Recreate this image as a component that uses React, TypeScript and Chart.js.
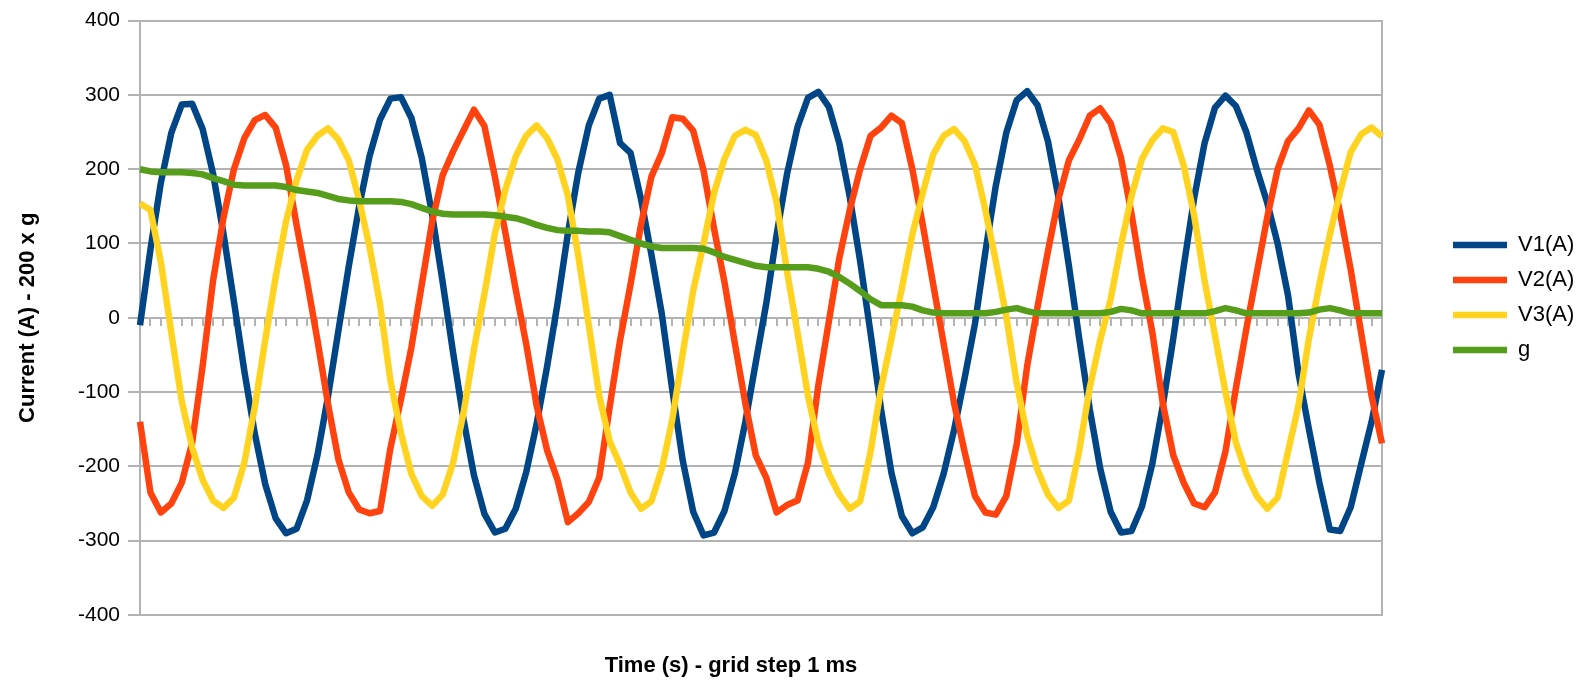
import React, { useEffect, useRef } from "react";
import { Chart, registerables } from "chart.js";

Chart.register(...registerables);

// time axis: one sample per millisecond (categories, labels hidden)
const timeMs = [
  0, 1, 2, 3, 4, 5, 6, 7, 8, 9, 10, 11, 12, 13, 14, 15, 16, 17, 18, 19,
  20, 21, 22, 23, 24, 25, 26, 27, 28, 29, 30, 31, 32, 33, 34, 35, 36, 37, 38, 39,
  40, 41, 42, 43, 44, 45, 46, 47, 48, 49, 50, 51, 52, 53, 54, 55, 56, 57, 58, 59,
  60, 61, 62, 63, 64, 65, 66, 67, 68, 69, 70, 71, 72, 73, 74, 75, 76, 77, 78, 79,
  80, 81, 82, 83, 84, 85, 86, 87, 88, 89, 90, 91, 92, 93, 94, 95, 96, 97, 98, 99,
  100, 101, 102, 103, 104, 105, 106, 107, 108, 109, 110, 111, 112, 113, 114, 115, 116, 117, 118, 119,
];

const v1 = [
  -10, 92, 182, 249, 287, 288, 254, 194, 113, 22,
  -72, -156, -224, -270, -290, -284, -246, -185, -107, -18,
  69, 150, 218, 267, 295, 297, 269, 215, 138, 48,
  -47, -137, -212, -264, -289, -284, -257, -208, -143, -66,
  19, 114, 196, 259, 295, 300, 235, 222, 160, 85,
  5, -97, -192, -261, -293, -289, -260, -209, -140, -60,
  19, 112, 194, 257, 296, 304, 284, 235, 163, 76,
  -21, -123, -209, -267, -290, -282, -255, -210, -151, -82,
  -8, 89, 178, 249, 293, 305, 286, 237, 162, 70,
  -29, -123, -203, -261, -289, -287, -254, -196, -118, -28,
  69, 161, 235, 283, 299, 285, 250, 200, 155, 100,
  30, -75, -150, -222, -285, -287, -255, -197, -140, -70,
];

const v2 = [
  -140, -235, -262, -250, -222, -168, -65, 50, 135, 200,
  242, 266, 273, 256, 205, 125, 50, -30, -115, -190,
  -235, -258, -263, -260, -175, -110, -40, 45, 130, 192,
  224, 252, 280, 258, 190, 115, 38, -35, -118, -178,
  -218, -275, -263, -248, -215, -120, -30, 45, 125, 190,
  222, 270, 268, 252, 198, 120, 48, -35, -115, -185,
  -215, -262, -252, -246, -195, -90, -5, 80, 145, 200,
  245, 256, 272, 262, 200, 125, 45, -35, -115, -180,
  -240, -262, -265, -240, -170, -65, 15, 90, 160, 212,
  240, 272, 282, 262, 215, 140, 55, -20, -115, -185,
  -222, -250, -255, -235, -180, -95, -15, 60, 135, 200,
  238, 255, 279, 260, 205, 140, 65, -20, -105, -169,
];

const v3 = [
  154, 145, 75, -20, -112, -175, -218, -246, -256, -242,
  -195, -120, -30, 55, 130, 185, 226, 245, 255, 240,
  212, 158, 95, 18, -85, -155, -210, -240, -253, -238,
  -195, -128, -42, 32, 113, 172, 217, 245, 259, 242,
  213, 164, 83, -10, -105, -166, -198, -235, -257, -247,
  -203, -137, -48, 36, 100, 168, 214, 245, 253, 246,
  212, 155, 62, -20, -105, -169, -210, -238, -257, -247,
  -180, -95, -28, 40, 112, 168, 220, 245, 254, 238,
  206, 145, 76, 2, -88, -158, -205, -238, -256, -246,
  -178, -94, -30, 25, 98, 164, 214, 239, 255, 250,
  205, 138, 50, -24, -100, -168, -210, -240, -257, -242,
  -180, -118, -28, 45, 112, 170, 223, 247, 256, 244,
];

// 200 x g
const gScaled = [
  200, 197, 196, 196, 196, 195, 193, 188, 184, 179,
  178, 178, 178, 178, 176, 172, 170, 168, 164, 160,
  158, 157, 157, 157, 157, 156, 153, 148, 143, 140,
  139, 139, 139, 139, 138, 136, 134, 130, 125, 121,
  118, 117, 117, 116, 116, 115, 110, 105, 100, 96,
  94, 94, 94, 94, 93, 88, 82, 78, 74, 70,
  68, 68, 68, 68, 68, 66, 62, 55, 46, 36,
  25, 17, 17, 17, 15, 10, 7, 6, 6, 6,
  6, 6, 8, 11, 13, 9, 6, 6, 6, 6,
  6, 6, 6, 8, 12, 10, 6, 6, 6, 6,
  6, 6, 6, 9, 13, 10, 6, 6, 6, 6,
  6, 6, 7, 11, 13, 10, 6, 6, 6, 6,
];

const seriesNames = ["V1(A)", "V2(A)", "V3(A)", "g"];
const seriesColors = ["#004586", "#ff420e", "#ffd320", "#579d1c"];
const yMin = -400;
const yMax = 400;
const yStep = 100;
const yTitle = "Current (A) - 200 x g";
const xTitle = "Time (s) - grid step 1 ms";

const FONT = '"Liberation Sans", Arial, Helvetica, sans-serif';
const GRID = "#b3b3b3";

const xTitlePlugin = {
  id: "xTitleText",
  afterDraw(chart: any) {
    const { ctx, chartArea } = chart;
    ctx.save();
    ctx.font = `bold 22px ${FONT}`;
    ctx.fillStyle = "#000000";
    ctx.textAlign = "center";
    ctx.textBaseline = "middle";
    ctx.fillText(xTitle, (chartArea.left + chartArea.right) / 2 - 30, chartArea.bottom + 51);
    ctx.restore();
  },
};

export default function App() {
  const canvasRef = useRef<HTMLCanvasElement | null>(null);

  useEffect(() => {
    if (!canvasRef.current) return;
    Chart.defaults.font.family = FONT;
    const seriesData = [v1, v2, v3, gScaled];
    const chart = new Chart(canvasRef.current, {
      type: "line",
      data: {
        labels: timeMs,
        datasets: seriesData.map((d, i) => ({
          label: seriesNames[i],
          data: d,
          borderColor: seriesColors[i],
          backgroundColor: seriesColors[i],
          borderWidth: 6.5,
          pointRadius: 0,
          pointHoverRadius: 0,
          tension: 0,
          fill: false,
          borderJoinStyle: "round" as const,
          order: 4 - i,
        })),
      },
      plugins: [xTitlePlugin],
      options: {
        animation: false,
        responsive: true,
        maintainAspectRatio: false,
        devicePixelRatio: 1,
        events: [],
        layout: { padding: { top: 20, bottom: 66, left: 0, right: 0 } },
        plugins: {
          tooltip: { enabled: false },
          title: { display: false },
          legend: {
            display: true,
            position: "right",
            align: "start",
            maxWidth: 140,
            title: {
              display: true,
              text: "",
              font: { size: 1, lineHeight: 1 },
              padding: { top: 200, bottom: 0 },
            },
            labels: {
              usePointStyle: true,
              pointStyle: "line",
              pointStyleWidth: 54,
              padding: 13,
              color: "#000000",
              font: { family: FONT, size: 22 },
              sort: (a: any, b: any) => a.datasetIndex - b.datasetIndex,
            },
          },
        },
        scales: {
          x: {
            type: "category",
            position: { y: 0 } as any,
            offset: false,
            grid: {
              display: true,
              drawOnChartArea: false,
              drawTicks: true,
              tickLength: 8,
              color: GRID,
              lineWidth: 2,
            },
            border: { display: false },
            ticks: { display: false, autoSkip: false },
          },
          y: {
            type: "linear",
            position: "left",
            min: yMin,
            max: yMax,
            ticks: {
              stepSize: yStep,
              color: "#000000",
              font: { family: FONT, size: 21 },
              padding: 8,
            },
            grid: { color: GRID, lineWidth: 2, tickLength: 12 },
            border: { display: true, color: GRID, width: 2 },
            title: {
              display: true,
              text: yTitle,
              color: "#000000",
              font: { family: FONT, size: 22, weight: "bold" },
              padding: { top: 15, bottom: 0 },
            },
            afterFit: (s: any) => {
              s.width = 140;
            },
          },
          y2: {
            type: "linear",
            position: "right",
            min: yMin,
            max: yMax,
            display: true,
            ticks: { display: false },
            grid: { display: false, drawTicks: false },
            border: { display: true, color: GRID, width: 2 },
            afterFit: (s: any) => {
              s.width = 58;
            },
          },
        },
      } as any,
    });
    return () => chart.destroy();
  }, []);

  return (
    <div style={{ position: "absolute", left: 0, top: 0, width: 1580, height: 681, background: "#ffffff" }}>
      <canvas ref={canvasRef} />
    </div>
  );
}
